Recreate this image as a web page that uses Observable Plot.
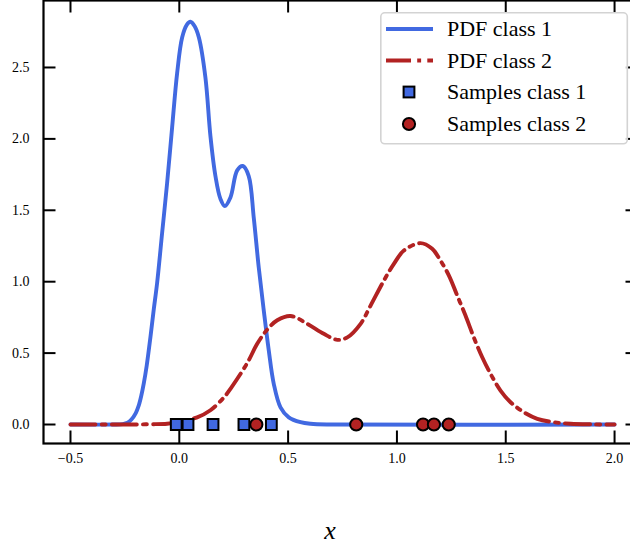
<!DOCTYPE html>
<html>
<head>
<meta charset="utf-8">
<script src="https://cdn.jsdelivr.net/npm/d3@7"></script>
<script src="https://cdn.jsdelivr.net/npm/@observablehq/plot@0.6"></script>
<style>
  html, body { margin: 0; padding: 0; background: #fff; }
  #chart { position: relative; width: 630px; height: 548px; overflow: hidden; }
  #legend { position: absolute; left: 380px; top: 12px; }
</style>
</head>
<body>
<div id="chart"></div>
<script>
// Estimated density of class 1 along x
const xGrid1 = [-0.5, -0.3, -0.26, -0.238, -0.22, -0.2, -0.187, -0.175, -0.163, -0.15, -0.132,
  -0.117, -0.102, -0.079, -0.056, -0.033, -0.010, 0.013, 0.035, 0.051, 0.07, 0.090, 0.120,
  0.143, 0.166, 0.189, 0.209, 0.235, 0.266, 0.292, 0.319, 0.342, 0.365, 0.388, 0.411, 0.434,
  0.465, 0.503, 0.557, 0.603, 0.7, 2.0];
const pdf1 = [0, 0, 0.003, 0.012, 0.035, 0.08, 0.13, 0.2, 0.29, 0.41, 0.62,
  0.81, 0.99, 1.34, 1.69, 2.08, 2.46, 2.71, 2.80, 2.82, 2.79, 2.71, 2.43,
  2.02, 1.74, 1.58, 1.53, 1.59, 1.78, 1.81, 1.74, 1.45, 1.10, 0.80, 0.52, 0.285,
  0.12, 0.05, 0.016, 0.005, 0, 0];

// Estimated density of class 2 along x
const xGrid2 = [-0.5, -0.224, -0.132, -0.056, 0.005, 0.082, 0.143, 0.205, 0.235, 0.312, 0.358,
  0.404, 0.450, 0.511, 0.588, 0.664, 0.726, 0.772, 0.833, 0.879, 0.940, 0.986, 1.032, 1.108,
  1.162, 1.200, 1.239, 1.277, 1.315, 1.353, 1.392, 1.430, 1.476, 1.522, 1.583, 1.645, 1.721,
  1.798, 1.9, 2.0];
const pdf2 = [0, 0, 0.002, 0.005, 0.02, 0.05, 0.10, 0.19, 0.25, 0.43, 0.565,
  0.665, 0.73, 0.76, 0.705, 0.635, 0.593, 0.61, 0.705, 0.833, 1.008, 1.125, 1.218, 1.27,
  1.23, 1.148, 1.043, 0.903, 0.763, 0.611, 0.471, 0.355, 0.238, 0.156, 0.086, 0.040, 0.016,
  0.005, 0.001, 0];

// Observed samples
const samples1 = [-0.014, 0.040, 0.155, 0.297, 0.423];
const samples2 = [0.354, 0.813, 1.120, 1.170, 1.238];

const xTicks = [-0.5, 0, 0.5, 1, 1.5, 2];
const yTicks = [0, 0.5, 1, 1.5, 2, 2.5];
const seriesNames = ["PDF class 1", "PDF class 2", "Samples class 1", "Samples class 2"];
const xLabel = "x";

const blue = "#4169e1", red = "#b22222";
const W = 630, H = 548, mL = 43, mR = -8, mT = 0, mB = 105;
const frameW = W - mL - mR, frameH = H - mT - mB;
const tickLen = 12.5;
const lineW = 3.9;
const dashDot = "25,6.2,3.9,6.2";
const markerR = 6.1;
const fmt = d3.format(".1f");
const serif = "'Liberation Serif', 'Times New Roman', serif";

const curve1 = xGrid1.map((x, i) => ({x, y: pdf1[i]}));
const curve2 = xGrid2.map((x, i) => ({x, y: pdf2[i]}));

const plot = Plot.plot({
  width: W, height: H,
  marginLeft: mL, marginRight: mR, marginTop: mT, marginBottom: mB,
  style: {fontFamily: serif, fontSize: "14px", background: "#fff", color: "#000"},
  x: {domain: [-0.624, 2.110]},
  y: {domain: [-0.133, 2.969]},
  marks: [
    Plot.line(curve1, {x: "x", y: "y", stroke: blue, strokeWidth: lineW, curve: "catmull-rom"}),
    Plot.line(curve2, {x: "x", y: "y", stroke: red, strokeWidth: lineW, strokeDasharray: dashDot, curve: "catmull-rom"}),
    Plot.dot(samples1, {x: d => d, y: 0, symbol: "square", r: markerR, fill: blue, stroke: "#000", strokeWidth: 2}),
    Plot.dot(samples2, {x: d => d, y: 0, symbol: "circle", r: markerR, fill: red, stroke: "#000", strokeWidth: 2}),
    Plot.frame({stroke: "#000", strokeWidth: 2.2}),
    // inward ticks on all four sides
    Plot.ruleX(xTicks, {x: d => d, insetTop: frameH - tickLen, stroke: "#000", strokeWidth: 2}),
    Plot.ruleX(xTicks, {x: d => d, insetBottom: frameH - tickLen, stroke: "#000", strokeWidth: 2}),
    Plot.ruleY(yTicks, {y: d => d, insetRight: frameW - tickLen, stroke: "#000", strokeWidth: 2}),
    Plot.ruleY(yTicks, {y: d => d, insetLeft: frameW - tickLen, stroke: "#000", strokeWidth: 2}),
    Plot.axisX(xTicks, {tickSize: 0, tickPadding: 10, tickFormat: fmt, label: null, fontSize: 14}),
    Plot.axisY(yTicks, {tickSize: 0, tickPadding: 14, tickFormat: fmt, label: null, fontSize: 14}),
    Plot.text([xLabel], {text: d => d, frameAnchor: "bottom", dx: -11, dy: 95,
      fontSize: 26, fontStyle: "italic", fontFamily: serif})
  ]
});

const chart = document.getElementById("chart");
chart.appendChild(plot);

// Legend box in the upper right corner of the axes
const leg = d3.create("svg")
  .attr("id", "legend")
  .attr("width", 250).attr("height", 134)
  .style("font-family", serif);
leg.append("rect")
  .attr("x", 0.8).attr("y", 0.8).attr("width", 246.5).attr("height", 131)
  .attr("rx", 4).attr("ry", 4)
  .attr("fill", "rgba(255,255,255,0.8)")
  .attr("stroke", "#d3d3d3").attr("stroke-width", 1.6);

const rowY = [17, 48.5, 80, 112];
const handleX0 = 6, handleX1 = 53, handleMid = 29, textX = 67;
const sq = markerR * Math.sqrt(Math.PI);

leg.append("line").attr("x1", handleX0).attr("x2", handleX1).attr("y1", rowY[0]).attr("y2", rowY[0])
  .attr("stroke", blue).attr("stroke-width", lineW);
leg.append("line").attr("x1", handleX0).attr("x2", handleX1).attr("y1", rowY[1]).attr("y2", rowY[1])
  .attr("stroke", red).attr("stroke-width", lineW).attr("stroke-dasharray", dashDot);
leg.append("rect").attr("x", handleMid - sq / 2).attr("y", rowY[2] - sq / 2).attr("width", sq).attr("height", sq)
  .attr("fill", blue).attr("stroke", "#000").attr("stroke-width", 2);
leg.append("circle").attr("cx", handleMid).attr("cy", rowY[3]).attr("r", markerR)
  .attr("fill", red).attr("stroke", "#000").attr("stroke-width", 2);

seriesNames.forEach((name, i) => {
  leg.append("text")
    .attr("x", textX).attr("y", rowY[i]).attr("dy", "0.32em")
    .attr("font-size", 22).attr("fill", "#000")
    .text(name);
});

chart.appendChild(leg.node());
</script>
</body>
</html>
